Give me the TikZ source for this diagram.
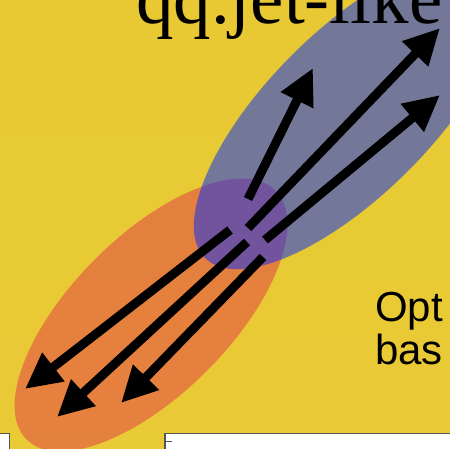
\documentclass[tikz,border=0pt]{standalone}
\usepackage{fontspec}
\setmainfont{Liberation Serif}
\newfontfamily\arialfont{Liberation Sans}
\usetikzlibrary{arrows.meta,shapes.geometric}
\definecolor{bgtop}{RGB}{229,195,42}
\definecolor{bgmid}{RGB}{234,205,58}
\definecolor{bgbot}{RGB}{245,231,105}
\definecolor{redfill}{RGB}{226,56,70}
\definecolor{bluefill}{RGB}{0,40,255}
\definecolor{boxline}{RGB}{85,85,85}
\pgfdeclareverticalshading{bgshade}{450bp}{color(0bp)=(bgbot); color(120bp)=(bgmid); color(450bp)=(bgtop)}
\tikzset{
  blob/.style={ellipse, inner sep=0pt, draw=none, fill opacity=0.5},
  arr/.style={line width=9pt, -{Triangle[length=36pt,width=34pt]}},
  whitebox/.style={fill=white, draw=boxline, line width=1.5pt},
  sidetext/.style={anchor=base west, inner sep=0pt, font=\arialfont\fontsize{42}{44}\selectfont},
}
\begin{document}
\begin{tikzpicture}[x=1pt,y=-1pt]
\useasboundingbox (0,0) rectangle (450,449);
\clip (0,0) rectangle (450,449);
\shade[shading=bgshade] (-2,-2) rectangle (452,451);
% ellipses
\node[blob, fill=redfill, minimum width=352pt, minimum height=158pt, rotate=45] (orange) at (151,315) {};
\node[blob, fill=bluefill, minimum width=410pt, minimum height=164pt, rotate=45] (blue) at (350,113) {};
% arrows
\coordinate (a1s) at (248,199); \coordinate (a1e) at (313,68);
\coordinate (a2s) at (248,228); \coordinate (a2e) at (440,28);
\coordinate (a3s) at (265,240); \coordinate (a3e) at (440,95);
\coordinate (b1s) at (230,230); \coordinate (b1e) at (25,389);
\coordinate (b2s) at (247,242); \coordinate (b2e) at (57,417);
\coordinate (b3s) at (263,257); \coordinate (b3e) at (121,403);
\draw[arr] (a1s) -- (a1e);
\draw[arr] (a2s) -- (a2e);
\draw[arr] (a3s) -- (a3e);
\draw[arr] (b1s) -- (b1e);
\draw[arr] (b2s) -- (b2e);
\draw[arr] (b3s) -- (b3e);
% texts
\node[anchor=base west, inner sep=0pt, font=\fontsize{75}{80}\selectfont] (title) at (136,24) {qq.jet-like};
\node[sidetext] (opt) at (375,321) {Opt};
\node[sidetext] (bas) at (375,364.5) {bas};
% bottom boxes
\node[whitebox, anchor=north east, minimum width=30pt, minimum height=40pt, inner sep=0pt] (leftbox) at (10,432.5) {};
\node[whitebox, anchor=north west, minimum width=300pt, minimum height=40pt, inner sep=0pt] (rightbox) at (164,432.5) {};
\coordinate (tk) at (172,441);
\draw[boxline, line width=1pt] (rightbox.north west |- tk) -- (tk);
\end{tikzpicture}
\end{document}
